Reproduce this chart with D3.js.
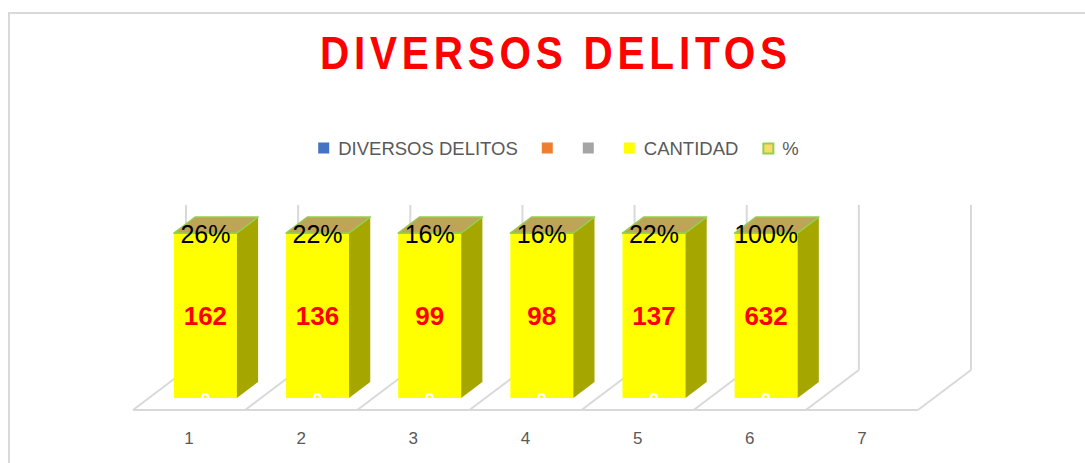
<!DOCTYPE html>
<html>
<head>
<meta charset="utf-8">
<script src="https://cdn.jsdelivr.net/npm/d3@7"></script>
<style>
html,body{margin:0;padding:0;background:#fff;}
svg{display:block;}
</style>
</head>
<body>
<svg id="chart" width="1085" height="463"></svg>
<script>
// ---- data ----
const categories = ["1","2","3","4","5","6","7"];
const cantidad = [162, 136, 99, 98, 137, 632, null];
const porcentaje = [0.26, 0.22, 0.16, 0.16, 0.22, 1.00, null];
const pctLabels = ["26%", "22%", "16%", "16%", "22%", "100%", ""];
const diversos = [0, 0, 0, 0, 0, 0, null];
const serie2 = [0, 0, 0, 0, 0, 0, null];
const serie3 = [0, 0, 0, 0, 0, 0, null];
const legendNames = ["DIVERSOS DELITOS", "", "", "CANTIDAD", "%"];
const legendColors = ["#4472c4", "#ed7d31", "#a5a5a5", "#ffff00", "#ffd966"];
const titleText = "DIVERSOS DELITOS";

const svg = d3.select("#chart");

// border
svg.append("path").attr("d","M9,463 V13 H1085").attr("fill","none")
  .attr("stroke","#d9d9d9").attr("stroke-width",2);

// title (narrowed letters with spacing)
const sx = 0.88;
svg.append("text").attr("transform",`translate(553.5,69) scale(${sx},1)`)
  .attr("text-anchor","middle").attr("fill","#ff0000")
  .attr("font-family","'Liberation Sans', Arial, sans-serif")
  .attr("font-weight","bold").attr("font-size",46)
  .attr("textLength",467/sx).attr("lengthAdjust","spacing")
  .text(titleText);

// legend
const lg = svg.append("g");
const legFont = "Liberation Sans, Arial, sans-serif";
let lx = 0;
legendNames.forEach((n,i)=>{
  const g = lg.append("g");
  const sw = g.append("rect").attr("x",lx).attr("y",-5.5).attr("width",11).attr("height",11)
    .attr("fill",legendColors[i]);
  if(i===4) sw.attr("x",lx+1).attr("y",-4.5).attr("width",10).attr("height",10)
    .attr("stroke","#92d050").attr("stroke-width",2);
  lx += 11;
  if(n){
    const t = g.append("text").attr("x",lx+9).attr("y",6.5).attr("fill","#595959")
      .attr("font-family",legFont).attr("font-size",18.5).text(n);
    lx += 9 + t.node().getComputedTextLength();
  }
  lx += (n? 24 : 30);
});
const totalW = lx - 24;
lg.attr("transform",`translate(${558.5 - totalW/2},148)`);

// ---- 3D geometry ----
const x = d3.scaleBand().domain(categories).range([133, 918]).padding(0);
const y = d3.scaleLinear().domain([0, 1]).range([0, 165]);
const floorY = 410;
const depth = {dx: 53, dy: -40};
const pt = (px, py, t) => [px + t*depth.dx, py + t*depth.dy];

const grid = svg.append("g").attr("stroke","#d9d9d9").attr("stroke-width",2).attr("fill","none");
grid.append("line").attr("x1",x.range()[0]).attr("x2",x.range()[1]).attr("y1",floorY).attr("y2",floorY);
const bounds = categories.map(c=>x(c)).concat([x.range()[1]]);
bounds.forEach(bx=>{
  const b = pt(bx, floorY, 1);
  grid.append("line").attr("x1",bx).attr("y1",floorY).attr("x2",b[0]).attr("y2",b[1]);
  grid.append("line").attr("x1",b[0]).attr("y1",b[1]).attr("x2",b[0]).attr("y2",b[1]-y(1));
});

// bars (100% stacked)
const barPad = 25, barW = 63, t0 = 0.3, t1 = 0.7;
const bars = svg.append("g");
const poly = (pts)=>"M"+pts.map(p=>p.join(",")).join("L")+"Z";
categories.forEach((c,i)=>{
  if(cantidad[i]==null) return;
  const total = cantidad[i] + porcentaje[i] + diversos[i] + serie2[i] + serie3[i];
  const fx0 = x(c) + barPad, fx1 = fx0 + barW;
  const segs = [
    {v: cantidad[i]/total, front:"#ffff00", side:"#a6a600", top:"#a6a600", stroke:null},
    {v: porcentaje[i]/total, front:"#ffd966", side:"#a6a600", top:"#bfa356", stroke:"#92d050"}
  ];
  let acc = 0;
  segs.forEach((s,k)=>{
    const yb = floorY - y(acc), yt = floorY - y(acc + s.v);
    acc += s.v;
    const F = [pt(fx0,yb,t0), pt(fx1,yb,t0), pt(fx1,yt,t0), pt(fx0,yt,t0)];
    const S = [pt(fx1,yb,t0), pt(fx1,yb,t1), pt(fx1,yt,t1), pt(fx1,yt,t0)];
    bars.append("path").attr("d",poly(F)).attr("fill",s.front)
      .attr("stroke",s.stroke||"none").attr("stroke-width",1);
    bars.append("path").attr("d",poly(S)).attr("fill",s.side)
      .attr("stroke",s.stroke||"none").attr("stroke-width",1);
    if(k===segs.length-1){
      const T = [pt(fx0,yt,t0), pt(fx1,yt,t0), pt(fx1,yt,t1), pt(fx0,yt,t1)];
      bars.append("path").attr("d",poly(T)).attr("fill",s.top)
        .attr("stroke","#92d050").attr("stroke-width",1.5).attr("stroke-linejoin","round");
    }
  });
  const cx = pt(fx0 + barW/2, 0, t0)[0];
  const frontBottom = floorY + t0*depth.dy;
  const frontTop = floorY - y(1) + t0*depth.dy;
  bars.append("text").attr("x",cx).attr("y",frontBottom+8).attr("text-anchor","middle")
    .attr("fill","#ffffff").attr("font-family",legFont).attr("font-weight","bold")
    .attr("font-size",18).text(diversos[i]);
  bars.append("text").attr("x",cx).attr("y",(frontTop+frontBottom)/2 + 9.5).attr("text-anchor","middle")
    .attr("fill","#ff0000").attr("font-family",legFont).attr("font-weight","bold")
    .attr("font-size",26).text(cantidad[i]);
  bars.append("text").attr("x",cx).attr("y",frontTop+10).attr("text-anchor","middle")
    .attr("fill","#000000").attr("font-family",legFont)
    .attr("font-size",25).text(pctLabels[i]);
});

// category axis labels
svg.append("g").selectAll("text").data(categories).join("text")
  .attr("x",d=>x(d)+x.bandwidth()/2).attr("y",444)
  .attr("text-anchor","middle").attr("fill","#595959")
  .attr("font-family",legFont).attr("font-size",17).text(d=>d);
</script>
</body>
</html>
